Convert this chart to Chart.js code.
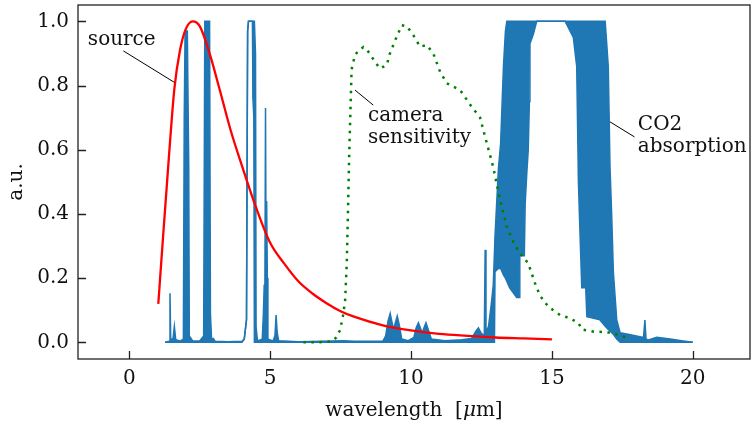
<!DOCTYPE html>
<html>
<head>
<meta charset="utf-8">
<script src="https://cdn.jsdelivr.net/npm/chart.js@4.4.1/dist/chart.umd.min.js"></script>
<style>
  html, body { margin: 0; padding: 0; background: #fff; }
  #wrap { width: 751px; height: 423px; }
</style>
</head>
<body>
<div id="wrap"><canvas id="spec" width="751" height="423"></canvas></div>
<script>
// ---- data ----
const xTicks = [0, 5, 10, 15, 20];
const yTicks = [0, 0.2, 0.4, 0.6, 0.8, 1.0];

// source (blackbody-like) curve
const sourceX = [1.03, 1.2, 1.4, 1.6, 1.8, 2.0, 2.25, 2.5, 2.85, 3.2, 3.6, 4.0, 4.5, 5.0, 5.5, 6.0, 6.5, 7.0, 7.5, 8.0, 9.0, 10.0, 11.0, 12.0, 13.0, 14.0, 15.0];
const sourceY = [0.12, 0.33, 0.57, 0.79, 0.91, 0.975, 1.0, 0.985, 0.90, 0.79, 0.66, 0.55, 0.42, 0.31, 0.245, 0.19, 0.152, 0.122, 0.097, 0.079, 0.053, 0.037, 0.026, 0.02, 0.015, 0.012, 0.009];

// camera sensitivity
const camX = [6.18, 6.6, 7.0, 7.18, 7.35, 7.48, 7.58, 7.66, 7.72, 7.77, 7.81, 7.86, 7.89, 8.01, 8.15, 8.31, 8.45, 8.6, 8.75, 8.9, 9.05, 9.14, 9.25, 9.49, 9.67, 9.85, 10.08, 10.32, 10.56, 10.79, 11.03, 11.27, 11.74, 12.15, 12.45, 12.63, 12.92, 13.16, 13.4, 13.63, 13.84, 13.99, 14.16, 14.4, 14.58, 14.87, 15.29, 15.64, 15.82, 15.94, 16.06, 16.5, 16.95, 17.24, 17.42, 17.71];
const camY = [0.0, 0.0, 0.001, 0.003, 0.015, 0.038, 0.08, 0.13, 0.25, 0.44, 0.6, 0.755, 0.85, 0.895, 0.91, 0.92, 0.91, 0.89, 0.87, 0.853, 0.86, 0.864, 0.9, 0.952, 0.988, 0.985, 0.957, 0.921, 0.926, 0.9, 0.843, 0.807, 0.786, 0.734, 0.7, 0.64, 0.545, 0.443, 0.36, 0.313, 0.28, 0.265, 0.246, 0.184, 0.145, 0.111, 0.085, 0.075, 0.066, 0.061, 0.04, 0.033, 0.032, 0.026, 0.022, 0.012];

// CO2 absorption: dense spectrum, kept as upper / lower envelope of the oscillations
const co2X = [1.27, 1.42, 1.445, 1.47, 1.55, 1.6, 1.65, 1.8, 1.92, 1.95, 1.98, 2.06, 2.11, 2.13, 2.25, 2.5, 2.64, 2.68, 2.85, 2.88, 2.92, 2.98, 3.05, 3.5, 4.0, 4.08, 4.16, 4.2, 4.23, 4.37, 4.39, 4.42, 4.44, 4.48, 4.5, 4.55, 4.72, 4.76, 4.79, 4.81, 4.835, 4.855, 4.875, 4.9, 4.92, 5.1, 5.17, 5.21, 5.25, 5.3, 6.0, 7.2, 7.6, 8.0, 9.0, 9.1, 9.18, 9.26, 9.33, 9.38, 9.44, 9.51, 9.58, 9.67, 9.9, 10.1, 10.18, 10.26, 10.33, 10.4, 10.46, 10.53, 10.61, 10.72, 11.2, 11.8, 12.15, 12.3, 12.39, 12.48, 12.6, 12.63, 12.66, 12.75, 12.85, 12.92, 12.96, 12.98, 13.1, 13.18, 13.28, 13.35, 13.4, 13.5, 13.75, 13.84, 13.86, 14.02, 14.05, 14.11, 14.16, 14.2, 14.22, 14.34, 14.46, 15.47, 15.76, 15.88, 15.94, 16.0, 16.06, 16.2, 16.24, 16.7, 16.89, 17.0, 17.06, 17.12, 17.18, 17.3, 17.42, 17.7, 18.0, 18.25, 18.3, 18.34, 18.43, 18.72, 19.2, 19.6, 20.0];
const co2Max = [0.0, 0.003, 0.153, 0.01, 0.01, 0.05, 0.008, 0.004, 0.01, 0.69, 0.97, 0.97, 0.55, 0.02, 0.004, 0.004, 0.02, 1.0, 1.0, 0.09, 0.01, 0.012, 0.003, 0.002, 0.003, 0.01, 0.07, 0.97, 1.0, 1.0, 1.0, 1.0, 1.0, 0.9, 0.05, 0.004, 0.01, 0.09, 0.18, 0.08, 0.73, 0.25, 0.44, 0.2, 0.01, 0.004, 0.02, 0.085, 0.03, 0.005, 0.002, 0.004, 0.005, 0.003, 0.004, 0.02, 0.065, 0.09, 0.06, 0.04, 0.06, 0.082, 0.055, 0.01, 0.005, 0.015, 0.045, 0.061, 0.045, 0.03, 0.045, 0.061, 0.04, 0.01, 0.005, 0.008, 0.012, 0.035, 0.045, 0.03, 0.02, 0.288, 0.03, 0.05, 0.12, 0.18, 0.28, 0.33, 0.54, 0.62, 0.86, 0.97, 1.0, 1.0, 1.0, 1.0, 1.0, 1.0, 1.0, 1.0, 1.0, 1.0, 1.0, 1.0, 1.0, 1.0, 1.0, 1.0, 1.0, 1.0, 1.0, 1.0, 1.0, 1.0, 1.0, 0.86, 0.55, 0.4, 0.22, 0.07, 0.03, 0.025, 0.02, 0.015, 0.069, 0.01, 0.007, 0.016, 0.01, 0.005, 0.0];
const co2Min = [0.0, 0.0, 0.0, 0.0, 0.0, 0.0, 0.0, 0.0, 0.0, 0.0, 0.0, 0.0, 0.0, 0.0, 0.0, 0.0, 0.0, 0.0, 0.0, 0.0, 0.0, 0.0, 0.0, 0.0, 0.0, 0.01, 0.07, 0.97, 1.0, 1.0, 0.76, 0.7, 0.0, 0.0, 0.0, 0.0, 0.0, 0.0, 0.0, 0.0, 0.0, 0.0, 0.0, 0.0, 0.0, 0.0, 0.0, 0.0, 0.0, 0.0, 0.0, 0.0, 0.0, 0.0, 0.0, 0.0, 0.0, 0.0, 0.0, 0.0, 0.0, 0.0, 0.0, 0.0, 0.0, 0.0, 0.0, 0.0, 0.0, 0.0, 0.0, 0.0, 0.0, 0.0, 0.0, 0.0, 0.0, 0.0, 0.0, 0.0, 0.0, 0.0, 0.0, 0.0, 0.0, 0.0, 0.0, 0.22, 0.23, 0.23, 0.21, 0.2, 0.19, 0.17, 0.14, 0.14, 0.27, 0.27, 0.43, 0.53, 0.6, 0.75, 0.93, 0.96, 1.0, 1.0, 0.95, 0.86, 0.5, 0.33, 0.17, 0.17, 0.08, 0.07, 0.05, 0.04, 0.035, 0.03, 0.025, 0.01, 0.0, 0.0, 0.0, 0.0, 0.0, 0.0, 0.0, 0.0, 0.0, 0.0, 0.0];

// text labels with their leader lines (data coordinates)
const notes = [
  { lines: ["source"], x: -1.47, y: 0.926, from: [-0.21, 0.908], to: [1.60, 0.81] },
  { lines: ["camera", "sensitivity"], x: 8.47, y: 0.69, from: [8.01, 0.786], to: [8.66, 0.739] },
  { lines: ["CO2", "absorption"], x: 18.05, y: 0.661, from: [17.06, 0.687], to: [17.93, 0.64] }
];

const serif = "'DejaVu Serif', serif";
const pts = (xs, ys) => xs.map((x, i) => ({ x: x, y: ys[i] }));

const framePlugin = {
  id: "frame",
  afterDraw(chart) {
    const { ctx, chartArea: a, scales } = chart;
    const sx = scales.x, sy = scales.y;
    ctx.save();
    // axes box
    ctx.strokeStyle = "#222";
    ctx.lineWidth = 1.3;
    ctx.strokeRect(a.left, a.top, a.right - a.left, a.bottom - a.top);
    // inward ticks
    ctx.beginPath();
    xTicks.forEach(v => {
      const px = Math.round(sx.getPixelForValue(v)) + 0.5;
      ctx.moveTo(px, a.bottom);
      ctx.lineTo(px, a.bottom - 8);
    });
    yTicks.forEach(v => {
      const py = Math.round(sy.getPixelForValue(v)) + 0.5;
      ctx.moveTo(a.left, py);
      ctx.lineTo(a.left + 8, py);
    });
    ctx.stroke();

    // annotations
    ctx.fillStyle = "#111";
    ctx.font = "20px " + serif;
    ctx.textBaseline = "alphabetic";
    ctx.textAlign = "left";
    notes.forEach(n => {
      const tx = sx.getPixelForValue(n.x);
      const ty = sy.getPixelForValue(n.y);
      n.lines.forEach((t, i) => ctx.fillText(t, tx, ty + i * 22));
      ctx.beginPath();
      ctx.strokeStyle = "#000";
      ctx.lineWidth = 1;
      ctx.moveTo(sx.getPixelForValue(n.from[0]), sy.getPixelForValue(n.from[1]));
      ctx.lineTo(sx.getPixelForValue(n.to[0]), sy.getPixelForValue(n.to[1]));
      ctx.stroke();
    });

    // x axis title with italic mu
    const parts = [["wavelength  [", "20px " + serif], ["\u03bc", "italic 20px " + serif], ["m]", "20px " + serif]];
    let w = 0;
    parts.forEach(p => { ctx.font = p[1]; w += ctx.measureText(p[0]).width; });
    let cx = (a.left + a.right) / 2 - w / 2;
    parts.forEach(p => {
      ctx.font = p[1];
      ctx.fillText(p[0], cx, 416);
      cx += ctx.measureText(p[0]).width;
    });
    ctx.restore();
  }
};

new Chart(document.getElementById("spec"), {
  type: "line",
  data: {
    datasets: [
      {
        label: "camera sensitivity",
        data: pts(camX, camY),
        borderColor: "#008000",
        borderWidth: 2.5,
        borderDash: [2.5, 5.5],
        pointRadius: 0,
        fill: false,
        order: 0
      },
      {
        label: "source",
        data: pts(sourceX, sourceY),
        borderColor: "#ff0000",
        borderWidth: 2.3,
        pointRadius: 0,
        cubicInterpolationMode: "monotone",
        fill: false,
        order: 1
      },
      {
        label: "CO2 absorption",
        data: pts(co2X, co2Max),
        borderColor: "#1f77b4",
        backgroundColor: "#1f77b4",
        borderWidth: 1.5,
        pointRadius: 0,
        fill: "+1",
        order: 2
      },
      {
        label: "CO2 absorption (lower)",
        data: pts(co2X, co2Min),
        borderColor: "#1f77b4",
        borderWidth: 1.5,
        pointRadius: 0,
        fill: false,
        order: 3
      }
    ]
  },
  options: {
    responsive: false,
    animation: false,
    devicePixelRatio: 1,
    layout: { padding: { top: 5, right: 1, left: 0, bottom: 0 } },
    plugins: { legend: { display: false }, tooltip: { enabled: false } },
    scales: {
      x: {
        type: "linear",
        min: -1.82,
        max: 22.03,
        grid: { display: false },
        border: { display: false },
        afterBuildTicks: s => { s.ticks = xTicks.map(v => ({ value: v })); },
        afterFit: s => { s.height = 64; s.paddingLeft = 0; s.paddingRight = 0; },
        ticks: { color: "#111", font: { family: serif, size: 20 }, padding: 0, maxRotation: 0 }
      },
      y: {
        type: "linear",
        min: -0.052,
        max: 1.051,
        grid: { display: false },
        border: { display: false },
        afterBuildTicks: s => { s.ticks = yTicks.map(v => ({ value: v })); },
        afterFit: s => { s.width = 78; s.paddingTop = 0; s.paddingBottom = 0; },
        ticks: { color: "#111", font: { family: serif, size: 20 }, padding: 1, callback: v => v.toFixed(1) },
        title: { display: true, text: "a.u.", color: "#111", font: { family: serif, size: 20 }, padding: { top: 5, bottom: 0 } }
      }
    }
  },
  plugins: [framePlugin]
});
</script>
</body>
</html>
